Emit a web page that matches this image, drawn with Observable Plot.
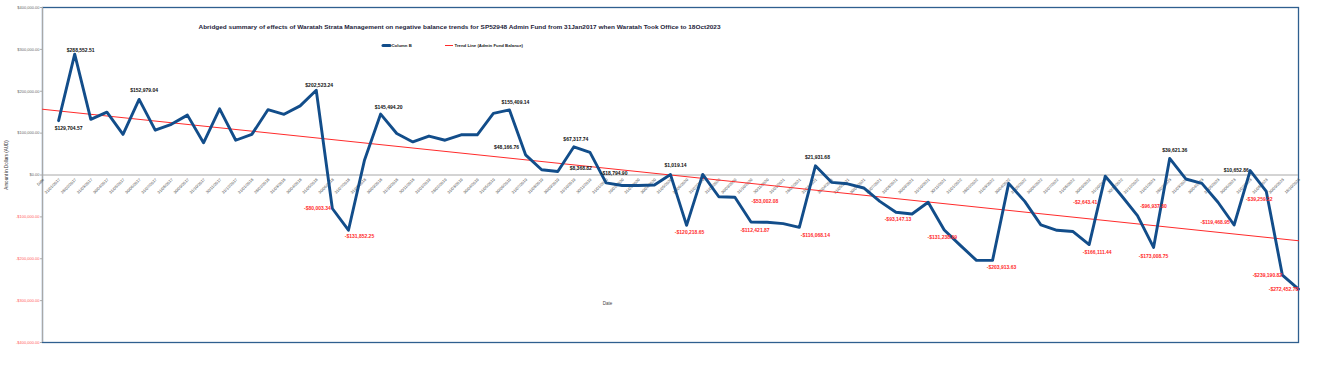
<!DOCTYPE html>
<html><head><meta charset="utf-8">
<script src="https://cdn.jsdelivr.net/npm/d3@7"></script>
<script src="https://cdn.jsdelivr.net/npm/@observablehq/plot@0.6"></script>
<style>html,body{margin:0;padding:0;background:#fff;overflow:hidden}#chart svg{display:block}</style>
</head><body><div id="chart"></div>
<script>
// ---------- DATA ----------
const titleText = "Abridged summary of effects of Waratah Strata Management on negative balance trends for SP52948 Admin Fund from 31Jan2017 when Waratah Took Office to 18Oct2023";
const seriesName = "Column B";
const trendName = "Trend Line (Admin Fund Balance)";
const yAxisTitle = "Amount in Dollars (AUD)";
const xAxisTitle = "Date";

const dates = [
  "31/01/2017","28/02/2017","31/03/2017","30/04/2017","31/05/2017","30/06/2017","31/07/2017","31/08/2017","30/09/2017","31/10/2017","30/11/2017","31/12/2017",
  "31/01/2018","28/02/2018","31/03/2018","30/04/2018","31/05/2018","30/06/2018","31/07/2018","31/08/2018","30/09/2018","31/10/2018","30/11/2018",
  "31/01/2019","28/02/2019","31/03/2019","30/04/2019","31/05/2019","30/06/2019","31/07/2019","31/08/2019","30/09/2019","31/10/2019","30/11/2019",
  "31/01/2020","29/02/2020","31/03/2020","30/04/2020","31/05/2020","30/06/2020","31/07/2020","31/08/2020","30/09/2020","31/10/2020","30/11/2020",
  "31/01/2021","28/02/2021","31/03/2021","30/04/2021","31/05/2021","30/06/2021","31/07/2021","31/08/2021","30/09/2021","31/10/2021","30/11/2021",
  "31/01/2022","28/02/2022","31/03/2022","30/04/2022","31/05/2022","30/06/2022","31/07/2022","31/08/2022","30/09/2022","31/10/2022","30/11/2022","31/12/2022",
  "31/01/2023","28/02/2023","31/03/2023","30/04/2023","31/05/2023","30/06/2023","31/07/2023","31/08/2023","30/09/2023","18/10/2023"
];
const balances = [
  129704.57, 288552.51, 133000, 150000, 97000, 180500, 107000, 121000, 143000, 77000,
  158000, 83000, 97000, 156000, 145000, 165000, 202523.24, -80003.34, -131852.25, 36000,
  145494.20, 99000, 79000, 93000, 83000, 96000, 96000, 147000, 155409.14, 48166.76,
  12600, 8368.82, 67317.74, 54000, -18794.90, -25000, -25000, -24000, 1019.14, -120218.65,
  1500, -52000, -53002.08, -112421.87, -113000, -116000, -125000, 21931.68, -17500, -21000,
  -31000, -63000, -89000, -93147.13, -65000, -131238.69, -168000, -203913.63, -203913.63, -20000,
  -63000, -119000, -132000, -135000, -166111.44, -2643.41, -49000, -96937.80, -173008.75, 39621.36,
  -9500, -20000, -65000, -119468.95, 10652.86, -39259.22, -239190.82, -272452.78
];
const trendValues = [157000, -157000]; // at first and last category

const yTicks = [400000, 300000, 200000, 100000, 0, -100000, -200000, -300000, -400000];
const yTickLabels = ["$400,000.00","$300,000.00","$200,000.00","$100,000.00","$0.00","-$100,000.00","-$200,000.00","-$300,000.00","-$400,000.00"];

const labelIdx = [1,2,6,17,18,19,21,29,30,32,33,35,39,40,43,44,47,48,54,56,59,65,66,68,69,70,74,75,76,77,78];
const labelText = ["$129,704.57","$288,552.51","$152,979.04","$202,523.24","-$80,003.34","-$131,852.25","$145,494.20","$155,409.14","$48,166.76","$8,368.82","$67,317.74","-$18,794.90","$1,019.14","-$120,218.65","-$53,002.08","-$112,421.87","-$116,068.14","$21,931.68","-$93,147.13","-$131,238.69","-$203,913.63","-$166,111.44","-$2,643.41","-$96,937.80","-$173,008.75","$39,621.36","-$119,468.95","$10,652.86","-$39,259.22","-$239,190.82","-$272,452.78"];

// ---------- LAYOUT (offsets in px for each data label) ----------
const labelOffsets = [[10,8],[6,-4],[5,-9],[3,-5],[-15,0],[11,6],[8,-7],[6,-8],[-19,-7],[23,-3],[2,-7],[8,-9],[5,-9],[3,7],[30,4],[4,8],[16,8],[2,-8],[-14,5],[-2,7],[9,7],[8,8],[-20,26],[16,-9],[0,9],[5,-8],[-19,-3],[-14,0],[-7,8],[-15,0],[-15,0]];
const blackLabels = new Set(["-$18,794.90"]);

const categories = ["Date", ...dates];
const series = balances.map((v, k) => ({i: k + 1, v}));
const trend = [{i: 0, v: trendValues[0]}, {i: categories.length - 1, v: trendValues[1]}];

const FONT = "'Liberation Sans', Arial, sans-serif";
const NAVY = "#124d8a";
const RED = "#ff2b2b";

const labelMarks = labelIdx.map((idx, k) => Plot.text([{i: idx, v: balances[idx - 1], t: labelText[k]}], {
  x: "i", y: "v", text: "t",
  dx: labelOffsets[k][0], dy: labelOffsets[k][1],
  fontSize: 5, fontWeight: "bold",
  fill: (labelText[k].startsWith("-") && !blackLabels.has(labelText[k])) ? RED : "#111"
}));

const chart = Plot.plot({
  width: 1317, height: 380,
  marginLeft: 42, marginRight: 19, marginTop: 7, marginBottom: 38,
  x: {domain: [0, categories.length - 1], axis: null},
  y: {domain: [-400000, 400000], axis: null},
  style: {fontFamily: FONT, background: "#fff", overflow: "visible"},
  marks: [
    Plot.frame({stroke: "#2f5f8f", strokeWidth: 1.3}),
    Plot.ruleX([0], {stroke: "#a8a8a8", strokeWidth: 1}),
    Plot.ruleY([0], {stroke: "#a8a8a8", strokeWidth: 1}),
    Plot.ruleY(yTicks, {y: d => d, x1: () => -0.12, x2: () => 0, stroke: "#a8a8a8"}),
    Plot.text(yTicks, {y: d => d, frameAnchor: "left", textAnchor: "end", dx: -3,
      text: (d, k) => yTickLabels[k], fontSize: 4, fill: d => d < 0 ? "#ff5a5a" : "#666"}),
    Plot.text(categories, {x: (d, k) => k, y: () => 0, text: d => d, rotate: -45, textAnchor: "end",
      dx: 1, dy: 4, fontSize: 4, fill: "#4a4a4a"}),
    Plot.line(trend, {x: "i", y: "v", stroke: RED, strokeWidth: 1}),
    Plot.line(series, {x: "i", y: "v", stroke: NAVY, strokeWidth: 2.9}),
    ...labelMarks,
    Plot.text([titleText], {frameAnchor: "top-left", textAnchor: "start", lineAnchor: "middle",
      dx: 156, dy: 20, text: d => d, fontSize: 6, fontWeight: "bold", fill: "#1d1d3a", className: "ttl"}),
    Plot.text([seriesName], {frameAnchor: "top-left", textAnchor: "start", lineAnchor: "middle",
      dx: 349, dy: 38.5, text: d => d, fontSize: 4.3, fontWeight: "bold", fill: "#222"}),
    Plot.text([trendName], {frameAnchor: "top-left", textAnchor: "start", lineAnchor: "middle",
      dx: 412, dy: 38.5, text: d => d, fontSize: 4.3, fontWeight: "bold", fill: "#222"}),
    Plot.text([yAxisTitle], {frameAnchor: "left", rotate: -90, textAnchor: "middle", lineAnchor: "middle",
      dx: -36, dy: -10, text: d => d, fontSize: 4.5, fill: "#333"}),
    Plot.text([xAxisTitle], {frameAnchor: "bottom", textAnchor: "middle", lineAnchor: "middle",
      dx: -63, dy: -39, text: d => d, fontSize: 4.5, fill: "#444"})
  ]
});

// legend swatches
const svg = d3.select(chart);
svg.append("line").attr("x1", 383).attr("x2", 390).attr("y1", 45.5).attr("y2", 45.5)
  .attr("stroke", NAVY).attr("stroke-width", 3).attr("stroke-linecap", "round");
svg.append("line").attr("x1", 445).attr("x2", 453).attr("y1", 45.5).attr("y2", 45.5)
  .attr("stroke", RED).attr("stroke-width", 1);
// stretch title to the reference width
svg.selectAll("g.ttl text").attr("textLength", 522).attr("lengthAdjust", "spacingAndGlyphs");

document.getElementById("chart").appendChild(chart);
</script>
</body></html>
